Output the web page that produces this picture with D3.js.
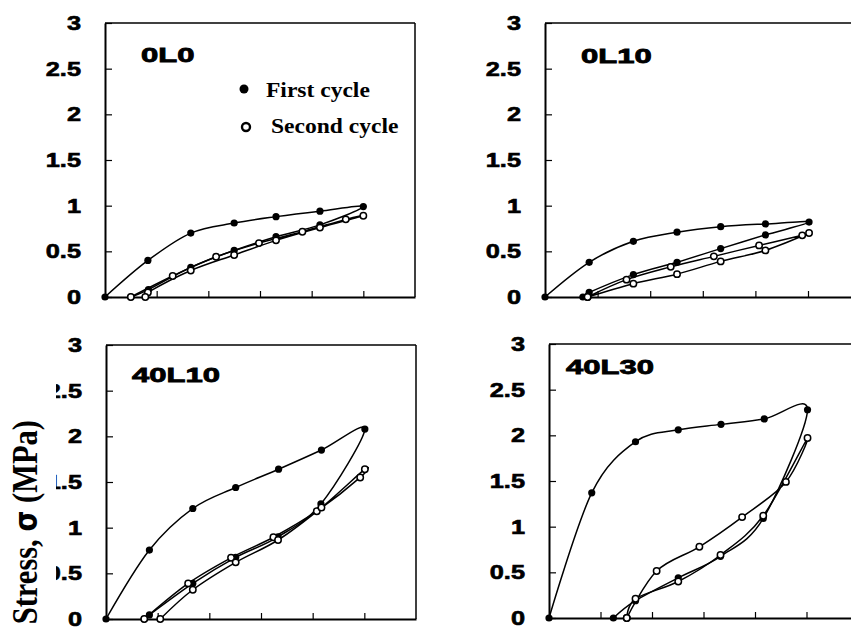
<!DOCTYPE html>
<html>
<head>
<meta charset="utf-8">
<script src="https://cdn.jsdelivr.net/npm/d3@7"></script>
<style>
  body { margin: 0; background: #fff; }
  svg { display: block; }
</style>
</head>
<body>
<div id="chart"></div>
<script>
var svgWidth = 851;
var svgHeight = 632;

// data: [strain, stress (MPa)]
var panelNames = ["0L0", "0L10", "40L10", "40L30"];
var yTicks = [0, 0.5, 1, 1.5, 2, 2.5, 3];
var yTickLabels = ["0", "0.5", "1", "1.5", "2", "2.5", "3"];
var xTicks = [1, 2, 3, 4, 5];
var legendLabels = ["First cycle", "Second cycle"];

var first0L0 = [[0, 0], [0.83, 0.40], [1.66, 0.70], [2.50, 0.81], [3.31, 0.88], [4.16, 0.94], [5.0, 0.99],
  [4.16, 0.79], [3.31, 0.66], [2.50, 0.51], [1.66, 0.325], [0.84, 0.08], [0.50, 0]];
var second0L0 = [[0.50, 0], [1.31, 0.23], [2.15, 0.44], [2.98, 0.59], [3.82, 0.715], [4.66, 0.85], [5.0, 0.89],
  [4.16, 0.76], [3.31, 0.62], [2.50, 0.46], [1.66, 0.29], [0.83, 0.05], [0.78, 0]];

var first0L10 = [[0, 0], [0.84, 0.38], [1.68, 0.61], [2.51, 0.71], [3.34, 0.77], [4.19, 0.80], [5.02, 0.82],
  [4.19, 0.68], [3.34, 0.53], [2.51, 0.38], [1.68, 0.245], [0.84, 0.05], [0.72, 0]];
var second0L10 = [[0.81, 0], [1.55, 0.19], [2.39, 0.33], [3.21, 0.445], [4.07, 0.565], [4.89, 0.675], [5.02, 0.70],
  [4.19, 0.51], [3.34, 0.39], [2.51, 0.25], [1.68, 0.146], [0.81, 0]];

var first40L10 = [[0, 0], [0.84, 0.755], [1.68, 1.21], [2.51, 1.44], [3.34, 1.64], [4.17, 1.85], [5.01, 2.08],
  [4.16, 1.26], [3.33, 0.90], [2.51, 0.675], [1.68, 0.39], [0.84, 0.045], [0.74, 0]];
var second40L10 = [[0.74, 0], [1.59, 0.39], [2.42, 0.67], [3.24, 0.895], [4.08, 1.18], [4.92, 1.55], [5.01, 1.64],
  [4.17, 1.22], [3.33, 0.865], [2.51, 0.62], [1.68, 0.32], [1.05, 0]];

var first40L30 = [[0, 0], [0.83, 1.37], [1.68, 1.93], [2.51, 2.06], [3.34, 2.12], [4.18, 2.18], [5.02, 2.28],
  [4.16, 1.09], [3.33, 0.675], [2.51, 0.44], [1.68, 0.19], [1.25, 0]];
var second40L30 = [[1.51, 0], [2.09, 0.515], [2.92, 0.78], [3.75, 1.105], [4.60, 1.49], [5.02, 1.97],
  [4.16, 1.12], [3.33, 0.69], [2.51, 0.40], [1.68, 0.21], [1.51, 0]];

var firstCycle = [first0L0, first0L10, first40L10, first40L30];
var secondCycle = [second0L0, second0L10, second40L10, second40L30];

// panel frames (pixels)
var frames = [
  { left: 105, right: 415, top: 23, bottom: 297, lx: 141, ly: 62 },
  { left: 545, right: 860.6, top: 23, bottom: 297, lx: 581, ly: 63 },
  { left: 106, right: 416, top: 345, bottom: 619, lx: 132, ly: 382 },
  { left: 549, right: 858, top: 344, bottom: 618, lx: 566, ly: 374 }
];

var svg = d3.select("#chart")
  .append("svg")
  .attr("width", svgWidth)
  .attr("height", svgHeight);

var numFont = "'Liberation Sans', Arial, sans-serif";
var serifFont = "'Liberation Serif', 'Times New Roman', serif";

frames.forEach(function (f, i) {
  var xScale = d3.scaleLinear().domain([0, 6]).range([f.left, f.right]);
  var yScale = d3.scaleLinear().domain([0, 3]).range([f.bottom, f.top]);

  var g = svg.append("g");

  // bottom axis, ticks pointing inside
  g.append("g")
    .attr("transform", `translate(0, ${f.bottom})`)
    .call(d3.axisBottom(xScale).tickValues(xTicks).tickSizeInner(-6).tickSizeOuter(0).tickFormat(""))
    .call(s => s.select(".domain").attr("stroke-width", 2))
    .call(s => s.selectAll(".tick line").attr("stroke-width", 1.2));

  // left axis
  g.append("g")
    .attr("transform", `translate(${f.left}, 0)`)
    .call(d3.axisLeft(yScale).tickValues(yTicks).tickSizeInner(-7).tickSizeOuter(0).tickFormat(""))
    .call(s => s.select(".domain").attr("stroke-width", 2))
    .call(s => s.selectAll(".tick line").attr("stroke-width", 1.2));

  // top and right borders
  g.append("line")
    .attr("x1", f.left).attr("x2", f.right)
    .attr("y1", f.top).attr("y2", f.top)
    .attr("stroke", "#000").attr("stroke-width", 1.5);
  g.append("line")
    .attr("x1", f.right).attr("x2", f.right)
    .attr("y1", f.top).attr("y2", f.bottom)
    .attr("stroke", "#000").attr("stroke-width", 1.5);

  // tick labels (stretched horizontally like the original)
  g.selectAll(".ylab")
    .data(yTicks)
    .enter()
    .append("g")
    .attr("transform", d => `translate(${f.left - 24}, ${yScale(d)}) scale(1.3, 1)`)
    .append("text")
    .attr("text-anchor", "end")
    .attr("dy", "0.36em")
    .attr("font-family", numFont)
    .attr("font-weight", "bold")
    .attr("font-size", "19.5px")
    .attr("stroke", "#000")
    .attr("stroke-width", 0.6)
    .text((d, j) => yTickLabels[j]);

  // panel label
  g.append("g")
    .attr("transform", `translate(${f.lx}, ${f.ly}) scale(1.55, 1)`)
    .append("text")
    .attr("font-family", numFont)
    .attr("font-weight", "bold")
    .attr("font-size", "20px")
    .attr("stroke", "#000")
    .attr("stroke-width", 0.8)
    .text(panelNames[i]);

  var line = d3.line()
    .x(d => xScale(d[0]))
    .y(d => yScale(d[1]))
    .curve(d3.curveCatmullRom.alpha(0));

  // first cycle
  g.append("path")
    .datum(firstCycle[i])
    .attr("d", line)
    .attr("fill", "none")
    .attr("stroke", "#000")
    .attr("stroke-width", 1.5);
  g.selectAll(".first")
    .data(firstCycle[i])
    .enter()
    .append("circle")
    .attr("cx", d => xScale(d[0]))
    .attr("cy", d => yScale(d[1]))
    .attr("r", 3.6)
    .attr("fill", "#000");

  // second cycle
  g.append("path")
    .datum(secondCycle[i])
    .attr("d", line)
    .attr("fill", "none")
    .attr("stroke", "#000")
    .attr("stroke-width", 1.5);
  g.selectAll(".second")
    .data(secondCycle[i])
    .enter()
    .append("circle")
    .attr("cx", d => xScale(d[0]))
    .attr("cy", d => yScale(d[1]))
    .attr("r", 3.2)
    .attr("fill", "#fff")
    .attr("stroke", "#000")
    .attr("stroke-width", 1.5);
});

// legend in the first panel
var legend = svg.append("g");
legend.append("circle")
  .attr("cx", 244).attr("cy", 89).attr("r", 4.5).attr("fill", "#000");
legend.append("circle")
  .attr("cx", 246).attr("cy", 127).attr("r", 4).attr("fill", "#fff")
  .attr("stroke", "#000").attr("stroke-width", 2.4);
legend.selectAll(".leg")
  .data(legendLabels)
  .enter()
  .append("g")
  .attr("transform", (d, j) => `translate(${j === 0 ? 266 : 271}, ${j === 0 ? 97 : 133}) scale(1.07, 1)`)
  .append("text")
  .attr("font-family", serifFont)
  .attr("font-weight", "bold")
  .attr("font-size", "22px")
  .text(d => d);

// y axis title with its white box over the tick labels
svg.append("rect")
  .attr("x", 0).attr("y", 378)
  .attr("width", 56).attr("height", svgHeight - 378)
  .attr("fill", "#fff");
var yTitle = svg.append("g")
  .attr("transform", "translate(37, 420) scale(1.15, 1) rotate(-90)")
  .append("text")
  .attr("text-anchor", "end")
  .attr("font-family", serifFont)
  .attr("font-weight", "bold")
  .attr("font-size", "30.5px");
yTitle.append("tspan").text("Stress, ");
yTitle.append("tspan").attr("font-family", "'DejaVu Sans', sans-serif").attr("font-size", "27px").text("σ");
yTitle.append("tspan").text(" (MPa)");
</script>
</body>
</html>
